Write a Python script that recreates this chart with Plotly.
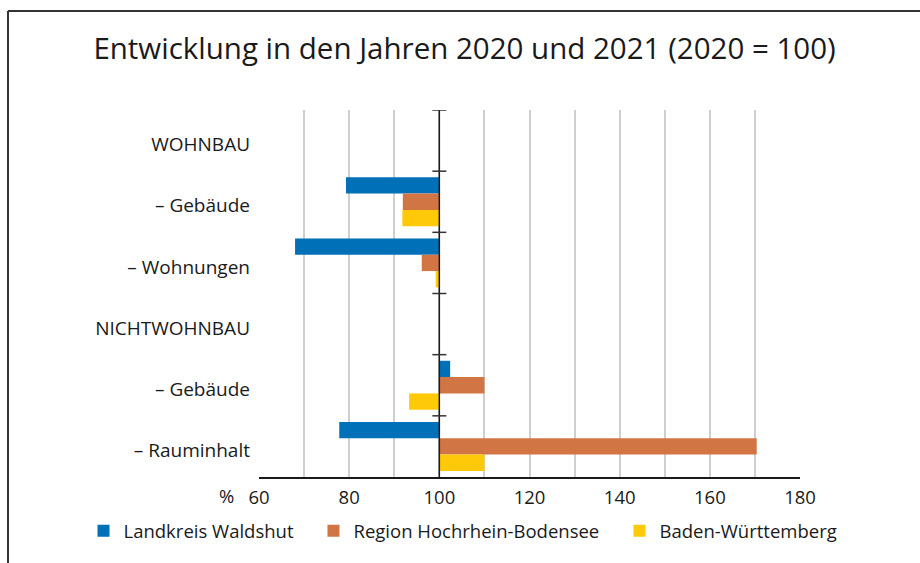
import plotly.graph_objects as go

# Rows of the chart (top to bottom); header rows carry no values
categories = ["WOHNBAU", "– Gebäude", "– Wohnungen", "NICHTWOHNBAU", "– Gebäude", "– Rauminhalt"]

# Index values 2021 (2020 = 100)
waldshut = [None, 79.3, 68.0, None, 102.4, 77.8]
hochrhein = [None, 91.9, 96.1, None, 110.0, 170.4]
bawue = [None, 91.8, 99.2, None, 93.3, 110.0]

series_names = ["Landkreis Waldshut", "Region Hochrhein-Bodensee", "Baden-Württemberg"]
series_colors = ["#0070B8", "#D17544", "#FEC908"]

x_ticks = [60, 80, 100, 120, 140, 160, 180]
BASE = 100

FONT = "Open Sans"
TEXT = "#1a1a1a"

rows = list(range(len(categories)))

fig = go.Figure()
legend_ids = ["legend", "legend2", "legend3"]
for vals, name, color, lg in zip([waldshut, hochrhein, bawue], series_names, series_colors, legend_ids):
    fig.add_trace(go.Bar(
        y=rows,
        x=[None if v is None else v - BASE for v in vals],
        base=BASE,
        orientation="h",
        name=name,
        marker=dict(color=color, line=dict(width=0)),
        legend=lg,
        showlegend=True,
    ))

shapes = []
# reference line at 100
shapes.append(dict(type="line", xref="x", yref="paper", x0=BASE, x1=BASE, y0=0, y1=1,
                   line=dict(color="#1a1a1a", width=1.5), layer="above"))
# small ticks across the reference line between rows
for b in [r - 0.5 for r in rows]:
    shapes.append(dict(type="line", xref="x", yref="y", xsizemode="pixel", xanchor=BASE,
                       x0=-7, x1=7, y0=b, y1=b,
                       line=dict(color="#333333", width=1.5), layer="above"))
# outer frame (top and left edges)
shapes.append(dict(type="line", xref="paper", yref="paper", xsizemode="pixel", ysizemode="pixel",
                   xanchor=0, yanchor=0, x0=-251, x1=700, y0=466, y1=466,
                   line=dict(color="#333333", width=2)))
shapes.append(dict(type="line", xref="paper", yref="paper", xsizemode="pixel", ysizemode="pixel",
                   xanchor=0, yanchor=0, x0=-251, x1=-251, y0=466, y1=-200,
                   line=dict(color="#333333", width=2)))

legend_base = dict(orientation="h", yref="paper", y=-0.148, yanchor="middle",
                   xanchor="left", font=dict(family=FONT, size=18.5, color=TEXT),
                   bgcolor="rgba(0,0,0,0)", itemclick=False, itemdoubleclick=False,
                   visible=True)

fig.update_layout(
    width=920, height=563,
    margin=dict(l=259, r=120, t=110, b=86, autoexpand=False),
    paper_bgcolor="white", plot_bgcolor="white",
    showlegend=True,
    barmode="group", bargap=0.2, bargroupgap=0,
    font=dict(family=FONT, size=19, color=TEXT),
    title=dict(text="Entwicklung in den Jahren 2020 und 2021 (2020 = 100)",
               x=0.505, xanchor="center", y=0.913, yanchor="middle",
               font=dict(family=FONT, size=29.5, color=TEXT)),
    xaxis=dict(range=[60, 180], tickvals=x_ticks, ticktext=[str(v) for v in x_ticks],
               showgrid=True, gridcolor="#cfcfcf", gridwidth=1.5,
               minor=dict(dtick=10, tick0=60, showgrid=True, gridcolor="#cfcfcf", gridwidth=1.5),
               showline=True, linecolor="#1a1a1a", linewidth=1.5,
               ticks="", ticklabelstandoff=3, zeroline=False, fixedrange=True,
               tickfont=dict(family=FONT, size=18.5, color=TEXT)),
    yaxis=dict(range=[5.5, -0.5], tickvals=rows, ticktext=categories,
               showgrid=False, zeroline=False, showline=False, ticks="",
               ticklabelstandoff=8, ticklabelshift=-4, fixedrange=True,
               tickfont=dict(family=FONT, size=19, color=TEXT)),
    legend=dict(legend_base, x=-0.3244),
    legend2=dict(legend_base, x=0.1007),
    legend3=dict(legend_base, x=0.6664),
    shapes=shapes,
    annotations=[dict(text="%", xref="paper", yref="paper", x=-0.06, y=-0.05,
                      xanchor="center", yanchor="middle", showarrow=False,
                      font=dict(family=FONT, size=18.5, color=TEXT))],
)

fig.write_html("out.html")
